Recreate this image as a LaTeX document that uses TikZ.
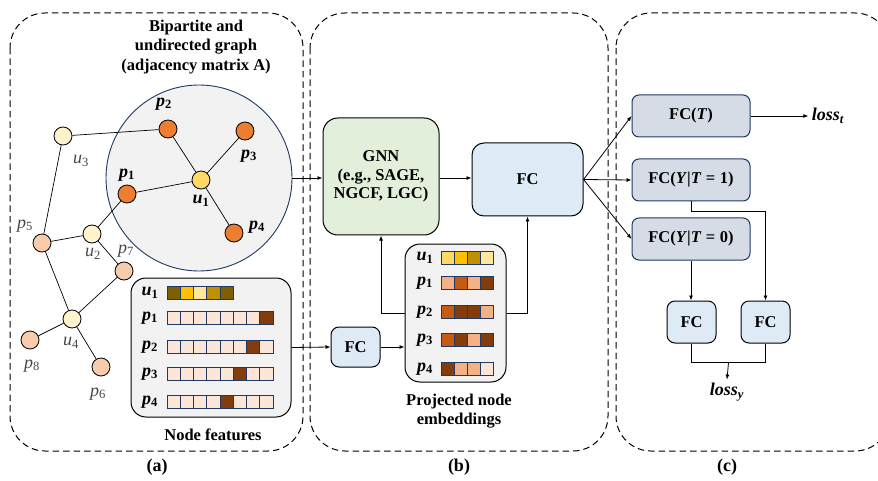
\documentclass[tikz,border=0pt]{standalone}
\usepackage{fontspec}
\setmainfont{Liberation Serif}
\usetikzlibrary{arrows.meta,calc}
\definecolor{dk}{HTML}{843C0C}
\definecolor{lt}{HTML}{FBE5D6}
\definecolor{md}{HTML}{F4B183}
\definecolor{orr}{HTML}{C55A11}
\definecolor{ga}{HTML}{7F6000}
\definecolor{gb}{HTML}{FFC000}
\definecolor{gc}{HTML}{FFE699}
\definecolor{gd}{HTML}{BF9000}
\definecolor{ge}{HTML}{FFD966}
\definecolor{navy}{HTML}{1F3864}
\definecolor{pnodec}{HTML}{ED7D31}
\definecolor{unodec}{HTML}{FFD966}
\definecolor{ulightc}{HTML}{FFF2CC}
\definecolor{plightc}{HTML}{F8CBAD}
\definecolor{greenbox}{HTML}{E2EFDA}
\definecolor{bluebox}{HTML}{DEEBF7}
\definecolor{graybox}{HTML}{D6DCE5}
\definecolor{panelgray}{HTML}{F2F2F2}
\newcommand\sv[2]{\textbf{\textit{#1}}\textsubscript{\textbf{#2}}}
\newcommand\svn[2]{\textit{#1}\textsubscript{#2}}
\newcommand\fs[1]{\fontsize{#1}{#1}\selectfont}
\begin{document}
\begin{tikzpicture}[x=1pt,y=-1pt,
  panel/.style={draw, dash pattern=on 6.5pt off 4pt, line width=1pt, rounded corners=35pt},
  edge/.style={draw, line width=0.7pt},
  arr/.style={draw, line width=0.8pt, -{Latex[length=5pt,width=4pt]}},
  gnode/.style={circle, draw, line width=0.8pt, minimum size=18pt, inner sep=0pt},
  pbig/.style={gnode, fill=pnodec},
  ubig/.style={gnode, fill=unodec},
  ulight/.style={gnode, fill=ulightc},
  plight/.style={gnode, fill=plightc},
  blbl/.style={font=\fs{18}},
  nlbl/.style={font=\fs{18}, text=black!72},
  txt/.style={font=\fs{16.5}\bfseries, align=center},
  box/.style={draw, line width=1pt, rounded corners=12pt, font=\fs{16.5}\bfseries, align=center, inner sep=0pt},
  cbox/.style={draw=navy, line width=1pt, rounded corners=7pt, fill=graybox, font=\fs{16.5}\bfseries, inner sep=0pt, minimum width=118pt, minimum height=42pt},
  cell/.style={draw=navy, line width=0.6pt}
]
\useasboundingbox (0,0) rectangle (878,481);
\clip (0,0) rectangle (878,481);

% panels
\draw[panel] (10,13) rectangle (303,451);
\draw[panel] (310,13) rectangle (608,451);
\draw[panel] (616,13) rectangle (890,451);

\node[txt, font=\fs{18}\bfseries] (la) at (157,467) {(a)};
\node[txt, font=\fs{18}\bfseries] (lb) at (459,467) {(b)};
\node[txt, font=\fs{18}\bfseries] (lc) at (727,467) {(c)};

% title
\node[txt] (title) at (196,47) {Bipartite and\\[3pt]undirected graph\\[3pt](adjacency matrix \textbf{A})};

% big circle
\node[circle, draw=navy, line width=0.9pt, fill=panelgray, minimum size=186pt, inner sep=0pt] (circ) at (199,178) {};

% graph nodes
\node[pbig] (p2) at (168,129) {};
\node[pbig] (p3) at (245,131) {};
\node[ubig] (u1) at (201,180) {};
\node[pbig] (p1) at (127,194) {};
\node[pbig] (p4) at (234,233) {};
\node[ulight] (u3) at (63,136) {};
\node[plight] (p5) at (42,243) {};
\node[ulight] (u2) at (92,234) {};
\node[plight] (p7) at (124,271) {};
\node[ulight] (u4) at (72,319) {};
\node[plight] (p8) at (30,340) {};
\node[plight] (p6) at (101,367) {};

\draw[edge] (u3) -- (p2);
\draw[edge] (u3) -- (p5);
\draw[edge] (p5) -- (u2);
\draw[edge] (u2) -- (p1);
\draw[edge] (u2) -- (p7);
\draw[edge] (p5) -- (u4);
\draw[edge] (p7) -- (u4);
\draw[edge] (u4) -- (p8);
\draw[edge] (u4) -- (p6);
\draw[edge] (u1) -- (p1);
\draw[edge] (u1) -- (p2);
\draw[edge] (u1) -- (p3);
\draw[edge] (u1) -- (p4);

% graph labels
\node[blbl] (lp2) at (164,104) {\sv{p}{2}};
\node[blbl] (lp3) at (249,156) {\sv{p}{3}};
\node[blbl] (lu1) at (201,201) {\sv{u}{1}};
\node[blbl] (lp1) at (127,175) {\sv{p}{1}};
\node[blbl] (lp4) at (257,227) {\sv{p}{4}};
\node[nlbl] (lu3) at (81,161) {\svn{u}{3}};
\node[nlbl] (lp5) at (25,226) {\svn{p}{5}};
\node[nlbl] (lu2) at (93,254) {\svn{u}{2}};
\node[nlbl] (lp7) at (126,251) {\svn{p}{7}};
\node[nlbl] (lu4) at (71,343) {\svn{u}{4}};
\node[nlbl] (lp8) at (32,366) {\svn{p}{8}};
\node[nlbl] (lp6) at (98,394) {\svn{p}{6}};

% node features
\node[draw, line width=1pt, rounded corners=15pt, fill=panelgray, minimum width=160pt, minimum height=139pt] (nf) at (211,347.5) {};
\foreach \lab/\sub/\yy in {u/1/293, p/1/318, p/2/347, p/3/374, p/4/402}
  \node[blbl] at (150,\yy) {\sv{\lab}{\sub}};
\foreach \c [count=\i from 0] in {ga,gb,gc,gd,ga}
  \draw[cell, fill=\c] (167+13.25*\i,286.75) rectangle ++(13.25,12.5);
\foreach \c [count=\i from 0] in {lt,lt,lt,lt,lt,lt,lt,dk}
  \draw[cell, fill=\c] (167+13.25*\i,311.75) rectangle ++(13.25,12.5);
\foreach \c [count=\i from 0] in {lt,lt,lt,lt,lt,lt,dk,lt}
  \draw[cell, fill=\c] (167+13.25*\i,340.75) rectangle ++(13.25,12.5);
\foreach \c [count=\i from 0] in {lt,lt,lt,lt,lt,dk,lt,lt}
  \draw[cell, fill=\c] (167+13.25*\i,367.75) rectangle ++(13.25,12.5);
\foreach \c [count=\i from 0] in {lt,lt,lt,lt,dk,lt,lt,lt}
  \draw[cell, fill=\c] (167+13.25*\i,395.75) rectangle ++(13.25,12.5);
\node[txt] (nflab) at (213,435) {Node features};

% panel b
\node[box, fill=greenbox, minimum width=116pt, minimum height=117pt, rounded corners=15pt] (gnn) at (381,176.5) {GNN\\[2pt](e.g., SAGE,\\[2pt]NGCF, LGC)};
\node[box, fill=bluebox, minimum width=111pt, minimum height=73pt] (fcb) at (527.5,179.5) {FC};
\node[box, fill=bluebox, minimum width=49pt, minimum height=40pt, rounded corners=8pt] (fcs) at (355.5,347) {FC};
\node[draw, line width=1pt, rounded corners=15pt, fill=panelgray, minimum width=101pt, minimum height=138pt] (emb) at (455.5,313) {};
\foreach \lab/\sub/\yy in {u/1/258, p/1/283, p/2/312, p/3/340, p/4/369}
  \node[blbl] at (425,\yy) {\sv{\lab}{\sub}};
\foreach \c [count=\i from 0] in {ge,gb,gd,gc}
  \draw[cell, fill=\c] (441+13*\i,251.75) rectangle ++(13,12.5);
\foreach \c [count=\i from 0] in {md,orr,md,dk}
  \draw[cell, fill=\c] (441+13*\i,276.75) rectangle ++(13,12.5);
\foreach \c [count=\i from 0] in {orr,dk,dk,md}
  \draw[cell, fill=\c] (441+13*\i,305.75) rectangle ++(13,12.5);
\foreach \c [count=\i from 0] in {orr,dk,md,dk}
  \draw[cell, fill=\c] (441+13*\i,333.75) rectangle ++(13,12.5);
\foreach \c [count=\i from 0] in {dk,md,md,lt}
  \draw[cell, fill=\c] (441+13*\i,362.75) rectangle ++(13,12.5);
\node[txt] (emblab) at (459,411) {Projected node\\[3pt]embeddings};

\draw[arr] (circ.east) -- (gnn.west|-circ.east);
\draw[arr] (gnn.east|-0,178) -- (fcb.west|-0,178);
\draw[arr] (nf.east) -- (fcs.west);
\draw[arr] (fcs.east) -- (emb.west|-fcs.east);
\draw[arr] (emb.west) -| (gnn.south);
\draw[arr] (emb.east) -| (fcb.south);

% panel c
\node[cbox] (fct) at (691,116) {FC(\textit{T})};
\node[cbox] (fcy1) at (691,180) {FC(\textit{Y}|\textit{T}\;=\;1)};
\node[cbox] (fcy0) at (691,239) {FC(\textit{Y}|\textit{T}\;=\;0)};
\node[box, fill=bluebox, minimum width=49pt, minimum height=42pt, rounded corners=8pt] (fc1) at (691.5,322) {FC};
\node[box, fill=bluebox, minimum width=49pt, minimum height=42pt, rounded corners=8pt] (fc2) at (765.5,322) {FC};
\node[font=\fs{18}] (losst) at (828,116) {\textbf{\textit{loss}}\textsubscript{\textbf{\textit{t}}}};
\node[font=\fs{18}] (lossy) at (727,392) {\textbf{\textit{loss}}\textsubscript{\textbf{\textit{y}}}};

\draw[arr] (fcb.east) -- (fct.west);
\draw[arr] (fcb.east) -- (fcy1.west);
\draw[arr] (fcb.east) -- (fcy0.west);
\draw[arr] (fct.east) -- (losst.west);
\draw[arr] (fcy0.south) -- (fcy0.south|-fc1.north);
\draw[arr] (fcy1.south) -- ++(0,10) -| (fc2.north);
\draw[edge] (fc1.south) -- ++(0,19) -| (fc2.south);
\coordinate (jn) at ($(fc1.south)!0.5!(fc2.south)+(0,19)$);
\draw[arr] (jn) -- (lossy.north);
\end{tikzpicture}
\end{document}
